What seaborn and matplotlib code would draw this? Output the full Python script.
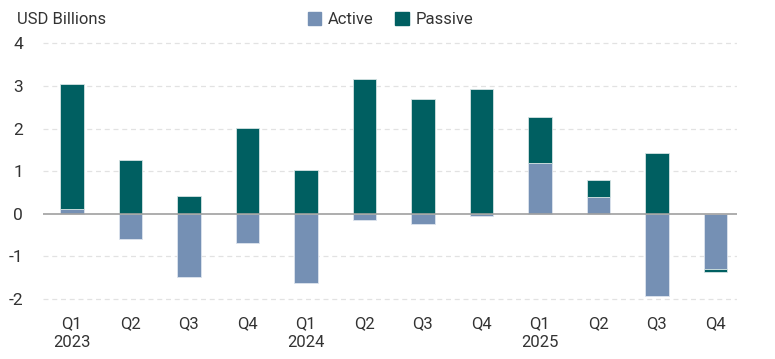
import matplotlib
matplotlib.use("Agg")
import matplotlib.pyplot as plt
import numpy as np
import seaborn as sns
from matplotlib.patches import Patch

quarters = ["Q1\n2023", "Q2", "Q3", "Q4", "Q1\n2024", "Q2", "Q3", "Q4",
            "Q1\n2025", "Q2", "Q3", "Q4"]
active = [0.11, -0.60, -1.48, -0.68, -1.63, -0.15, -0.24, -0.05, 1.18, 0.40, -1.92, -1.30]
passive = [2.93, 1.25, 0.42, 2.02, 1.02, 3.16, 2.69, 2.94, 1.10, 0.39, 1.42, -0.07]

active_color = "#7590B4"
passive_color = "#005F61"
text_color = "#333333"

sns.set_theme(style="white")
plt.rcParams["font.family"] = ["Liberation Sans Narrow", "Roboto", "DejaVu Sans"]

fig = plt.figure(figsize=(7.75, 3.59), dpi=100)
ax = fig.add_axes([0.055, 0.1376, 0.896, 0.7476])

x = np.arange(len(quarters))
act = np.array(active)
pas = np.array(passive)

# stack positives up and negatives down, active nearest the zero line
act_bottom = np.zeros(len(x))
pas_bottom = np.where(np.sign(pas) == np.sign(act), act, 0.0)

ax.bar(x, act, bottom=act_bottom, width=0.4, color=active_color,
       edgecolor="#dde4ee", linewidth=0.6, zorder=3)
ax.bar(x, pas, bottom=pas_bottom, width=0.4, color=passive_color,
       edgecolor="#d5e3e3", linewidth=0.6, zorder=3)

ax.set_xlim(-0.5, 11.37)
ax.set_ylim(-2.25, 4.05)
ax.set_yticks([-2, -1, 0, 1, 2, 3, 4])
ax.set_yticklabels(["-2", "-1", "0", "1", "2", "3", "4"])
ax.set_xticks(x)
ax.set_xticklabels(quarters, linespacing=1.25)
for v in [-2, -1, 1, 2, 3, 4]:
    ax.axhline(v, color="#e2e2e2", lw=0.9, ls=(0, (4, 3)), zorder=1)
ax.axhline(0, color="#a0a0a0", lw=1.2, zorder=4)

for s in ax.spines.values():
    s.set_visible(False)
ax.tick_params(axis="y", length=0, pad=14, labelsize=12.5, labelcolor=text_color)
ax.tick_params(axis="x", length=0, pad=5, labelsize=12, labelcolor=text_color)
ax.grid(False)

fig.text(0.022, 0.945, "USD Billions", fontsize=12, color=text_color, va="center")

handles = [Patch(color=active_color, label="Active"), Patch(color=passive_color, label="Passive")]
fig.legend(handles=handles, loc="center left", bbox_to_anchor=(0.378, 0.945), ncol=2,
           frameon=False, fontsize=12, handlelength=0.8, handleheight=0.8,
           handletextpad=0.4, columnspacing=1.3, labelcolor=text_color)

fig.savefig("out.png", dpi=100)
